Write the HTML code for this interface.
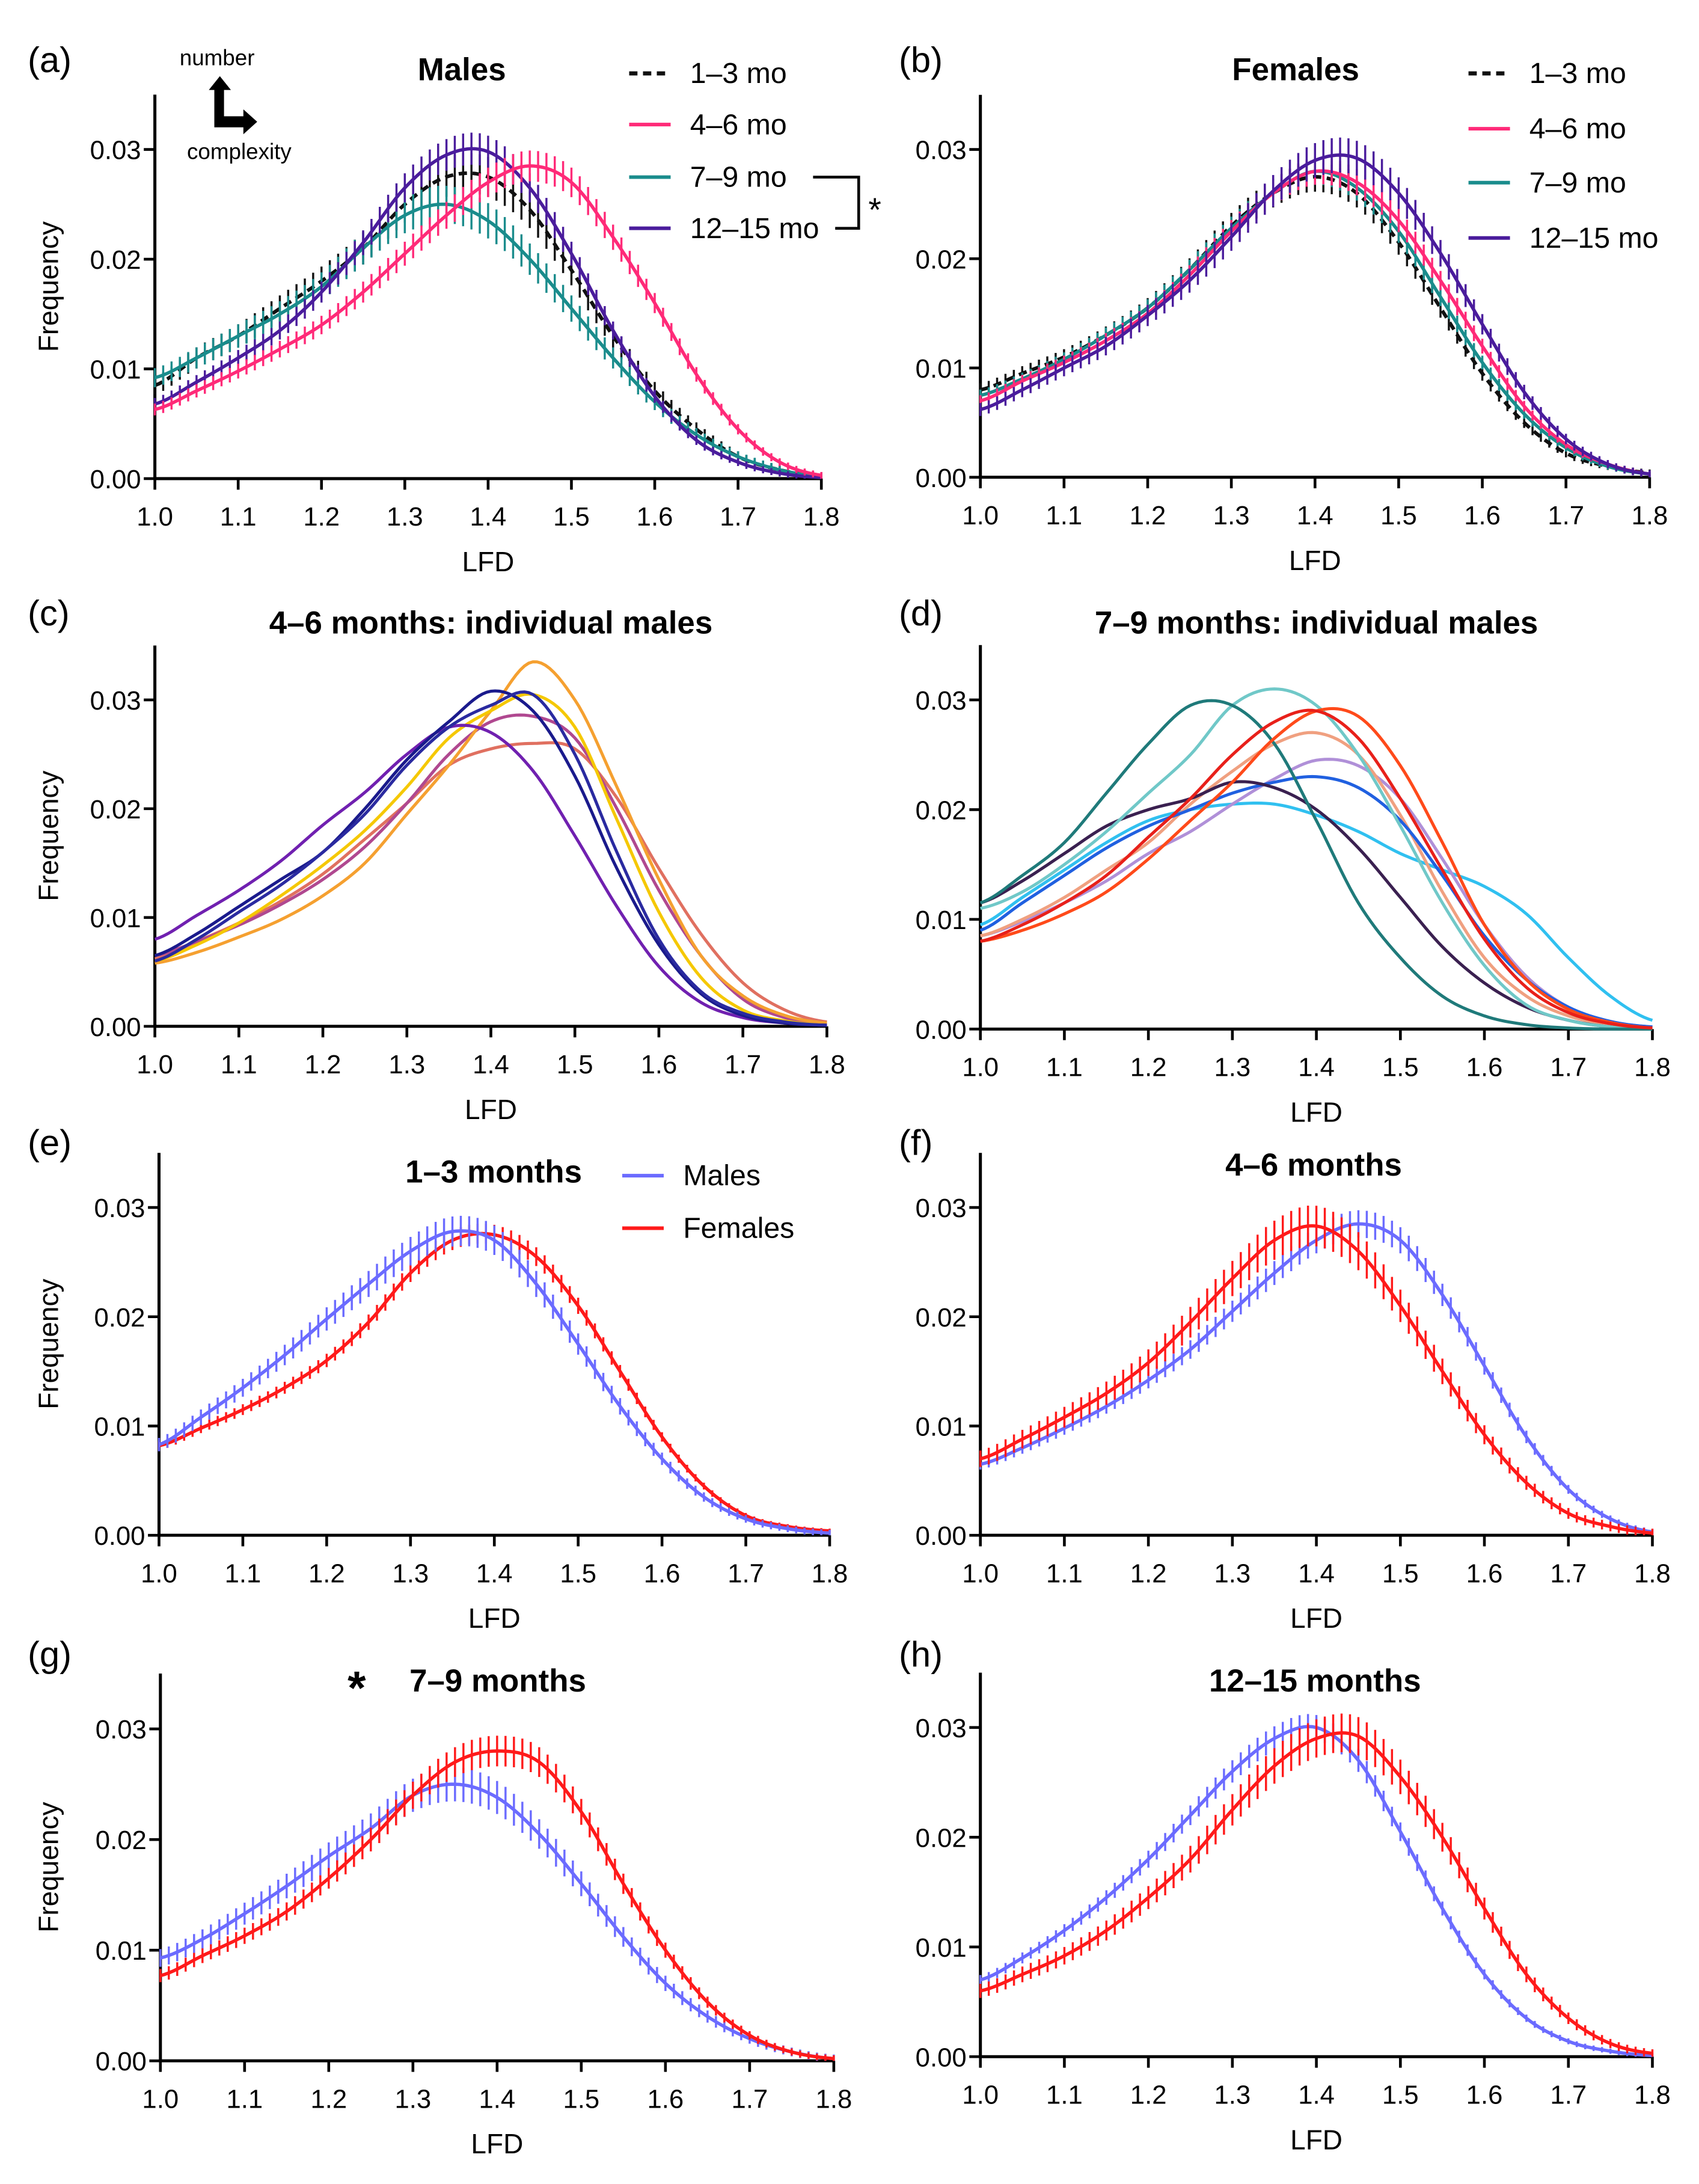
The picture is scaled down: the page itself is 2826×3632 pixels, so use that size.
<!DOCTYPE html>
<html><head><meta charset="utf-8"><style>
html,body{margin:0;padding:0;background:#fff}
svg{display:block}
text{font-family:"Liberation Sans",sans-serif;fill:#000}
</style></head><body>
<svg id="fig" width="2826" height="3632" viewBox="0 0 1228.7 1579" xmlns="http://www.w3.org/2000/svg"></svg>
<script>
// shared x categories (LFD)
const lfd = [1.0,1.05,1.1,1.15,1.2,1.25,1.3,1.35,1.4,1.45,1.5,1.55,1.6,1.65,1.7,1.75,1.8];
const xTicks = ["1.0","1.1","1.2","1.3","1.4","1.5","1.6","1.7","1.8"];
const yTicks = ["0.00","0.01","0.02","0.03"];
// (a) males
const aM13 = [0.0085,0.011,0.013,0.0155,0.018,0.021,0.025,0.0275,0.0275,0.0245,0.019,0.013,0.008,0.0045,0.002,0.0008,0.0002];
const aM46 = [0.0063,0.008,0.0098,0.0118,0.014,0.017,0.0205,0.024,0.027,0.0285,0.027,0.022,0.016,0.0095,0.0045,0.0015,0.0003];
const aM79 = [0.0092,0.011,0.013,0.015,0.0175,0.021,0.024,0.025,0.0235,0.02,0.0155,0.011,0.007,0.004,0.002,0.0008,0.0002];
const aM1215 = [0.0068,0.0088,0.011,0.0135,0.017,0.0215,0.0265,0.0295,0.0298,0.0265,0.0205,0.0135,0.0075,0.0035,0.0015,0.0005,0.0001];
// (b) females
const bF13 = [0.008,0.0095,0.011,0.013,0.0155,0.019,0.023,0.026,0.0275,0.026,0.0215,0.0155,0.0095,0.005,0.0022,0.001,0.0004];
const bF46 = [0.007,0.0088,0.0105,0.0125,0.015,0.0185,0.0225,0.026,0.028,0.027,0.0235,0.018,0.012,0.0065,0.003,0.0012,0.0003];
const bF79 = [0.0075,0.009,0.0108,0.013,0.0155,0.019,0.0228,0.026,0.028,0.0265,0.0225,0.0165,0.0105,0.0058,0.0027,0.001,0.0003];
const bF1215 = [0.0062,0.008,0.01,0.012,0.0148,0.018,0.022,0.0262,0.029,0.0292,0.026,0.0205,0.014,0.0078,0.0035,0.0012,0.0003];
// (c) individual males 4-6
const c1 = [0.0065,0.0085,0.011,0.0135,0.016,0.020,0.0245,0.028,0.0308,0.029,0.023,0.0145,0.0075,0.003,0.001,0.0003,0.0001];
const c2 = [0.006,0.008,0.0105,0.013,0.016,0.0195,0.024,0.0275,0.0295,0.0305,0.025,0.016,0.008,0.0032,0.0012,0.0004,0.0001];
const c3 = [0.008,0.0102,0.0125,0.0152,0.0185,0.0215,0.025,0.0275,0.027,0.0235,0.0175,0.011,0.0055,0.0022,0.0008,0.0003,0.0001];
const c4 = [0.0058,0.0068,0.0082,0.0098,0.012,0.015,0.0195,0.024,0.029,0.0335,0.030,0.022,0.0135,0.0065,0.0028,0.001,0.0003];
const c5 = [0.006,0.0075,0.0095,0.012,0.0148,0.018,0.022,0.0265,0.029,0.0305,0.0275,0.019,0.0105,0.0045,0.0015,0.0005,0.0001];
const c6 = [0.0062,0.0078,0.0095,0.0115,0.014,0.0172,0.0205,0.024,0.0255,0.026,0.0255,0.021,0.0145,0.0085,0.004,0.0015,0.0004];
const c7 = [0.0065,0.0078,0.0093,0.0112,0.0135,0.0165,0.0205,0.025,0.028,0.0285,0.0265,0.02,0.0125,0.0065,0.0025,0.0008,0.0002];
// (d) individual males 7-9
const d1 = [0.0115,0.014,0.017,0.0215,0.026,0.0295,0.0295,0.026,0.019,0.0115,0.0065,0.003,0.0012,0.0004,0.0001,0,0];
const d2 = [0.011,0.0125,0.015,0.018,0.0215,0.025,0.0295,0.031,0.0295,0.025,0.0185,0.0115,0.0058,0.0022,0.0008,0.0002,0];
const d3 = [0.008,0.0095,0.0115,0.014,0.0175,0.021,0.025,0.028,0.029,0.0265,0.021,0.0145,0.0082,0.0038,0.0015,0.0005,0.0001];
const d4 = [0.008,0.009,0.0105,0.0125,0.0155,0.019,0.0225,0.0265,0.029,0.0285,0.024,0.017,0.0095,0.0045,0.0018,0.0006,0.0001];
const d5 = [0.0085,0.010,0.012,0.0145,0.017,0.0205,0.0235,0.026,0.027,0.025,0.0195,0.0125,0.0065,0.003,0.0012,0.0004,0.0001];
const d6 = [0.0085,0.0098,0.0115,0.0135,0.016,0.018,0.0205,0.0228,0.0245,0.024,0.021,0.0155,0.0095,0.0048,0.002,0.0007,0.0002];
const d7 = [0.009,0.0115,0.014,0.0165,0.0185,0.020,0.0215,0.0225,0.023,0.022,0.019,0.014,0.0085,0.0045,0.002,0.0007,0.0002];
const d8 = [0.0095,0.012,0.0145,0.017,0.019,0.020,0.0205,0.0205,0.0195,0.018,0.016,0.0145,0.013,0.0105,0.0065,0.003,0.0008];
const d9 = [0.0115,0.0135,0.016,0.0185,0.020,0.021,0.0225,0.022,0.020,0.0165,0.012,0.0075,0.0042,0.002,0.0008,0.0002,0];
// (e)-(h) males vs females
const eM = [0.0083,0.0108,0.0135,0.0165,0.0198,0.023,0.026,0.0278,0.027,0.023,0.0175,0.0118,0.007,0.0035,0.0015,0.0006,0.0002];
const eF = [0.0082,0.0098,0.0115,0.0135,0.016,0.0195,0.024,0.027,0.0275,0.0255,0.021,0.015,0.009,0.0045,0.0018,0.0008,0.0004];
const fM = [0.0065,0.008,0.0098,0.0118,0.0142,0.017,0.0205,0.024,0.027,0.0285,0.027,0.022,0.0155,0.009,0.0042,0.0015,0.0003];
const fF = [0.007,0.0088,0.0108,0.013,0.0158,0.0195,0.0235,0.027,0.0283,0.026,0.021,0.015,0.0092,0.0048,0.002,0.0008,0.0002];
const gM = [0.0093,0.011,0.0133,0.0158,0.0185,0.021,0.024,0.025,0.0238,0.0205,0.016,0.0112,0.007,0.004,0.002,0.0008,0.0002];
const gF = [0.0077,0.0095,0.0113,0.0135,0.0165,0.02,0.024,0.027,0.028,0.027,0.0225,0.016,0.01,0.0053,0.0023,0.0008,0.0002];
const hM = [0.007,0.009,0.0115,0.0145,0.018,0.022,0.026,0.029,0.030,0.027,0.0205,0.0135,0.0075,0.0035,0.0014,0.0005,0.0001];
const hF = [0.006,0.0075,0.0092,0.0115,0.0145,0.018,0.0225,0.0265,0.029,0.0292,0.0255,0.02,0.0135,0.0075,0.0035,0.0012,0.0003];

const NS="http://www.w3.org/2000/svg";
const svg=document.getElementById('fig');
function mk(tag,attrs,parent){const e=document.createElementNS(NS,tag);for(const k in attrs)e.setAttribute(k,attrs[k]);(parent||svg).appendChild(e);return e;}
function txt(s,x,y,size,opts,parent){const t=mk('text',Object.assign({x:x,y:y,'font-size':size},opts||{}),parent);t.textContent=s;return t;}

function catmull(vals,x){
  const step=lfd[1]-lfd[0];let i=Math.floor((x-lfd[0])/step+1e-9);
  if(i>=vals.length-1)i=vals.length-2; if(i<0)i=0;
  const t=(x-lfd[i])/step;
  const p0=vals[Math.max(i-1,0)],p1=vals[i],p2=vals[i+1],p3=vals[Math.min(i+2,vals.length-1)];
  return 0.5*((2*p1)+(-p0+p2)*t+(2*p0-5*p1+4*p2-p3)*t*t+(-p0+3*p1-3*p2+p3)*t*t*t);
}

function panel(name,x0,x1,y0,y03){
  const g=mk('g',{});
  
  
  const sx=v=>x0+(v-1.0)/0.8*(x1-x0);
  const sy=v=>y0-(v/0.03)*(y0-y03);
  const top=sy(0.035);
  const ax=mk('g',{},g);
  
  
  mk('line',{x1:x0,y1:top,x2:x0,y2:y0,stroke:'#000','stroke-width':2.2},ax);
  mk('line',{x1:x0-1,y1:y0,x2:x1,y2:y0,stroke:'#000','stroke-width':2.2},ax);
  xTicks.forEach(s=>{const v=parseFloat(s);const X=sx(v);
    mk('line',{x1:X,y1:y0,x2:X,y2:y0+8,stroke:'#000','stroke-width':2},ax);
    const t=txt(s,X,y0+34,19,{'text-anchor':'middle'},ax);
    
    });
  yTicks.forEach(s=>{const v=parseFloat(s);const Y=sy(v);
    mk('line',{x1:x0-8,y1:Y,x2:x0,y2:Y,stroke:'#000','stroke-width':2},ax);
    const t=txt(s,x0-10,Y+7,19,{'text-anchor':'end'},ax);
    
    });
  const xt=txt('LFD',(x0+x1)/2,y0+67,20,{'text-anchor':'middle'},g);
  
  
  return {g,sx,sy,x0,x1,y0,top};
}
function yTitle(p){
  const cy=(p.top+p.y0)/2;
  const t=txt('Frequency',0,0,20,{'text-anchor':'middle',transform:`translate(42,${cy}) rotate(-90)`},p.g);
  
  
}
function meanSeries(p,vals,color,name,dashed,err){
  const g=mk('g',{},p.g);
  
  
  for(let k=0;k<=80;k++){const x=1.0+k*0.01;const v=catmull(vals,x);const e=1.3*err*(0.25+v/0.03);
    mk('line',{x1:p.sx(x),y1:p.sy(v+e),x2:p.sx(x),y2:p.sy(Math.max(v-e,0)),stroke:color,'stroke-width':1.5},g);}
  let d='';
  for(let k=0;k<=160;k++){const x=1.0+k*0.005;const v=Math.max(catmull(vals,x),0);d+=(k?'L':'M')+p.sx(x).toFixed(2)+','+p.sy(v).toFixed(2);}
  const a={d:d,fill:'none',stroke:color,'stroke-width':dashed?2.6:2.4};
  if(dashed)a['stroke-dasharray']='6,4';
  mk('path',a,g);
}
function indivSeries(p,vals,color,name){
  let d='';
  for(let k=0;k<=160;k++){const x=1.0+k*0.005;const v=Math.max(catmull(vals,x),0);d+=(k?'L':'M')+p.sx(x).toFixed(2)+','+p.sy(v).toFixed(2);}
  const e=mk('path',{d:d,fill:'none',stroke:color,'stroke-width':2.2},p.g);
  
  
}
function label(s,x,y){const t=txt(s,x,y,26,{},svg);}
function title(s,x,y){const t=txt(s,x,y,23,{'text-anchor':'middle','font-weight':'bold'},svg);}
function legendEntry(x,y,color,s,dashed){
  const g=mk('g',{});
  
  
  const a={x1:x,y1:y,x2:x+30,y2:y,stroke:color,'stroke-width':dashed?3:2.6};
  if(dashed)a['stroke-dasharray']='6,4';
  mk('line',a,g);
  txt(s,x+44,y+7,21,{},g);
}
const BLK='#111',PINK='#ff2a78',TEAL='#1a8c8c',PURP='#4a1c9c',BLUE='#6b6bff',RED='#ff1a1a';

// (a)
let p=panel('panel-a-males',112,594,346,108);
meanSeries(p,aM13,BLK,'series-1-3mo',true,0.0012);
meanSeries(p,aM79,TEAL,'series-7-9mo',false,0.0012);
meanSeries(p,aM1215,PURP,'series-12-15mo',false,0.0009);
meanSeries(p,aM46,PINK,'series-4-6mo',false,0.0009);
yTitle(p);label('(a)',20,52);title('Males',334,58);
legendEntry(455,53,BLK,'1–3 mo',true);legendEntry(455,90,PINK,'4–6 mo');legendEntry(455,128,TEAL,'7–9 mo');legendEntry(455,165,PURP,'12–15 mo');
mk('path',{d:'M588,128 H621 V165 H604',fill:'none',stroke:'#000','stroke-width':2});
txt('*',628,160,24,{});
txt('number',157,47,16,{'text-anchor':'middle'});
txt('complexity',173,115,16,{'text-anchor':'middle'});
mk('path',{d:'M151,65 L159,55 L167,65 L162,65 L162,84 L176,84 L176,79 L186,88 L176,97 L176,92 L155,92 L155,65 Z',fill:'#000'});

// (b)
p=panel('panel-b-females',709,1193,345,108);
meanSeries(p,bF13,BLK,'series-1-3mo',true,0.0009);
meanSeries(p,bF79,TEAL,'series-7-9mo',false,0.0008);
meanSeries(p,bF46,PINK,'series-4-6mo',false,0.0008);
meanSeries(p,bF1215,PURP,'series-12-15mo',false,0.001);
label('(b)',650,52);title('Females',937,58);
legendEntry(1062,53,BLK,'1–3 mo',true);legendEntry(1062,93,PINK,'4–6 mo');legendEntry(1062,132,TEAL,'7–9 mo');legendEntry(1062,172,PURP,'12–15 mo');

// (c)
p=panel('panel-c-individual-4-6',112,598,742,506);
[[c6,'#e07060'],[c7,'#b04890'],[c4,'#f5a030'],[c5,'#f5c800'],[c3,'#7020b0'],[c1,'#1a1a8c'],[c2,'#2a2aa0']].forEach((s,i)=>indivSeries(p,s[0],s[1],'male-line-'+(i+1)));
yTitle(p);label('(c)',20,452);title('4–6 months: individual males',355,458);

// (d)
p=panel('panel-d-individual-7-9',709,1195,744,506);
[[d8,'#30c0f0'],[d6,'#b090d8'],[d5,'#f0a080'],[d7,'#2060e0'],[d9,'#3a2050'],[d2,'#70c8c8'],[d1,'#1f7a7a'],[d4,'#ff4a1a'],[d3,'#e8201a']].forEach((s,i)=>indivSeries(p,s[0],s[1],'male-line-'+(i+1)));
label('(d)',650,452);title('7–9 months: individual males',952,458);

// (e)
p=panel('panel-e-1-3-months',115,600,1110,873);
meanSeries(p,eF,RED,'females-series',false,0.0006);
meanSeries(p,eM,BLUE,'males-series',false,0.0009);
yTitle(p);label('(e)',20,835);title('1–3 months',357,855);
legendEntry(450,850,BLUE,'Males');legendEntry(450,888,RED,'Females');

// (f)
p=panel('panel-f-4-6-months',709,1195,1110,873);
meanSeries(p,fM,BLUE,'males-series',false,0.0008);
meanSeries(p,fF,RED,'females-series',false,0.0012);
label('(f)',650,835);title('4–6 months',950,850);

// (g)
p=panel('panel-g-7-9-months',116,603,1490,1250);
meanSeries(p,gM,BLUE,'males-series',false,0.0011);
meanSeries(p,gF,RED,'females-series',false,0.0009);
yTitle(p);label('(g)',20,1205);title('7–9 months',360,1223);
txt('*',258,1232,34,{'text-anchor':'middle','font-weight':'bold'});

// (h)
p=panel('panel-h-12-15-months',709,1195,1487,1249);
meanSeries(p,hM,BLUE,'males-series',false,0.0007);
meanSeries(p,hF,RED,'females-series',false,0.0011);
label('(h)',650,1205);title('12–15 months',951,1223);
</script>
</body></html>
